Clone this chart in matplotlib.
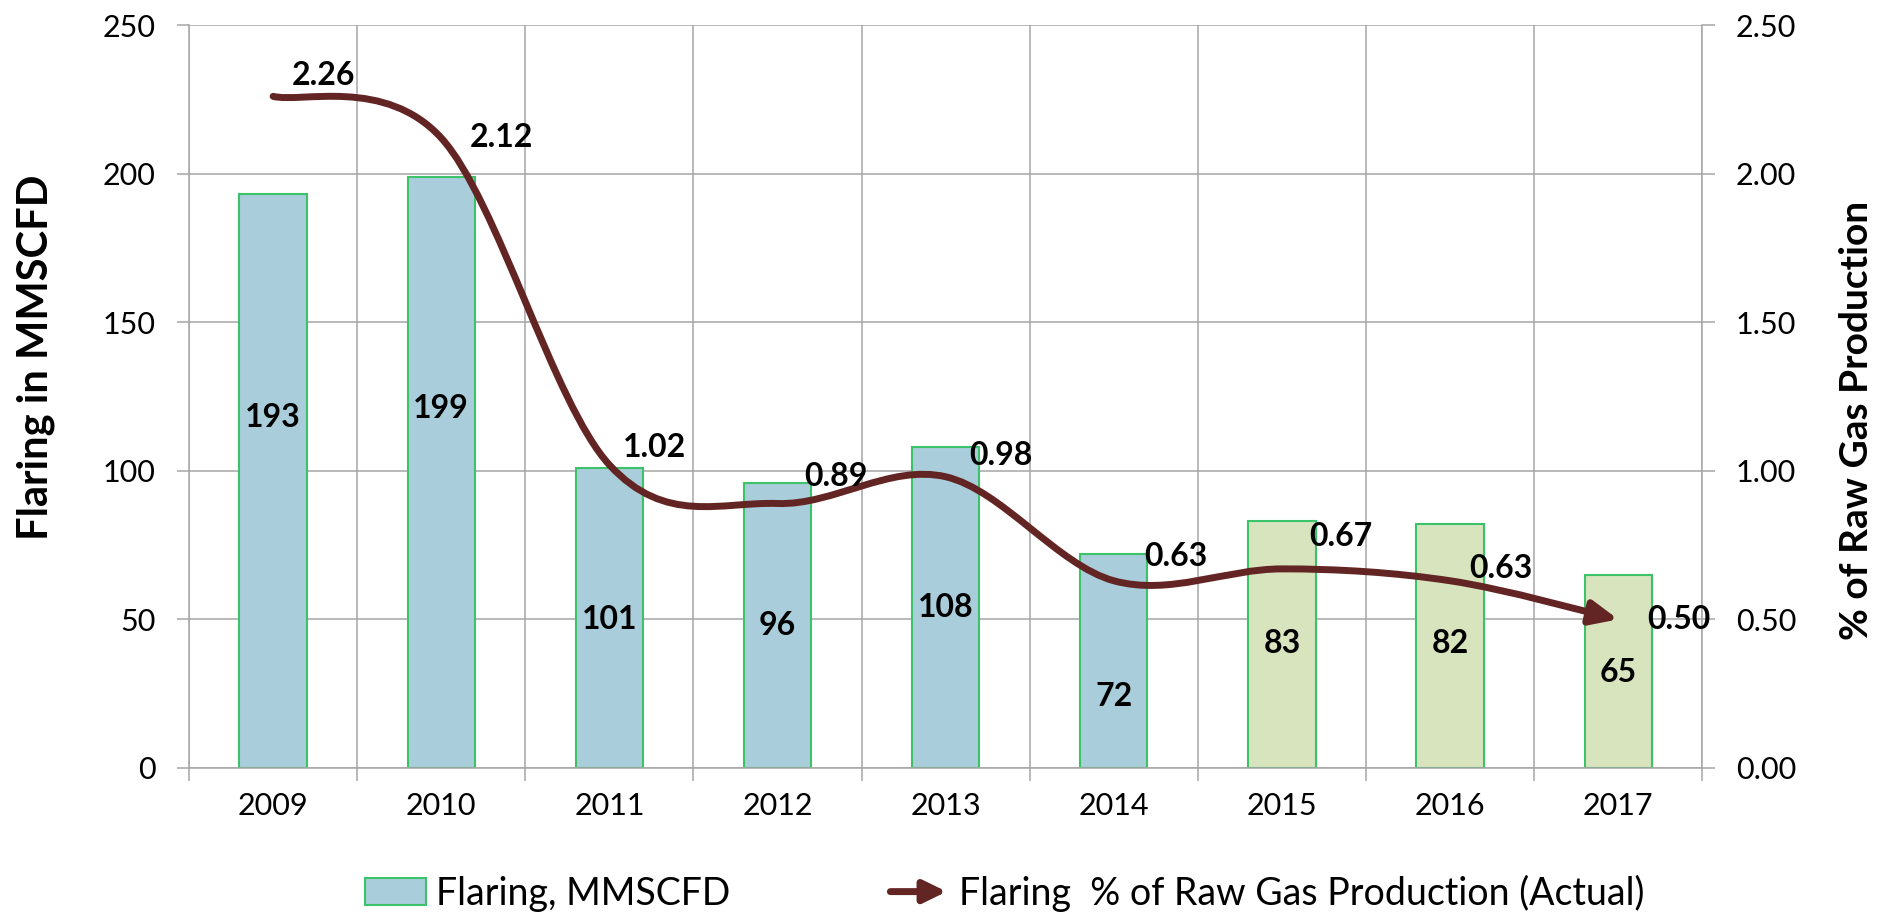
import numpy as np
import matplotlib
matplotlib.use("Agg")
import matplotlib.pyplot as plt
from matplotlib.path import Path
from matplotlib.patches import FancyArrowPatch, Patch
from matplotlib.legend_handler import HandlerBase
from matplotlib.ticker import FormatStrFormatter

plt.rcParams['font.family'] = ['Lato', 'DejaVu Sans']

years = ['2009', '2010', '2011', '2012', '2013', '2014', '2015', '2016', '2017']
flaring = [193, 199, 101, 96, 108, 72, 83, 82, 65]
pct_raw_gas = [2.26, 2.12, 1.02, 0.89, 0.98, 0.63, 0.67, 0.63, 0.50]

# where the labels sit (layout, not data)
bar_label_y = [118, 121, 50, 48, 54, 24, 42, 42, 32]
pct_label_dx = [0.30, 0.36, 0.27, 0.35, 0.33, 0.37, 0.35, 0.30, 0.36]
pct_label_y = [2.33, 2.12, 1.08, 0.98, 1.05, 0.71, 0.78, 0.67, 0.50]

blue = '#A9CDDB'
green = '#D7E4BD'
edge = '#3CC36A'
line_col = '#632523'
grid_col = '#A6A6A6'

fig = plt.figure(figsize=(18.81, 9.17), dpi=100)
ax = fig.add_axes([0.1005, 0.1625, 0.8045, 0.8102])
x = np.arange(len(years))
colors = [blue] * 6 + [green] * 3
ax.bar(x, flaring, width=0.4, color=colors, edgecolor=edge, linewidth=1.5, zorder=2)
for i, v in enumerate(flaring):
    ax.text(x[i], bar_label_y[i], str(v), ha='center', va='center', fontsize=23,
            fontweight='bold', zorder=5)

ax.set_xlim(-0.5, len(years) - 0.5)
ax.set_ylim(0, 250)
ax.set_yticks(np.arange(0, 251, 50))
ax.set_xticks(x)
ax.set_xticklabels(years)
ax.set_xticks(np.arange(-0.5, len(years), 1), minor=True)
ax.set_axisbelow(True)
ax.yaxis.grid(True, color=grid_col, lw=1.1)
ax.xaxis.grid(True, which='minor', color=grid_col, lw=1.1)
ax.tick_params(axis='x', which='major', length=0, labelsize=22, pad=17)
ax.tick_params(axis='x', which='minor', length=9, direction='out', color=grid_col, width=1.1)
ax.tick_params(axis='y', length=9, direction='out', color=grid_col, width=1.1,
               labelsize=22, pad=15)
for s in ['left', 'right', 'bottom']:
    ax.spines[s].set_color(grid_col)
    ax.spines[s].set_linewidth(1.1)
ax.spines['top'].set_visible(False)

ax2 = ax.twinx()
ax2.set_ylim(0, 2.5)
ax2.set_yticks(np.arange(0, 2.51, 0.5))
ax2.yaxis.set_major_formatter(FormatStrFormatter('%.2f'))
ax2.tick_params(axis='y', length=9, direction='out', color=grid_col, width=1.1,
                labelsize=22, pad=15)
for s in ['left', 'right', 'bottom', 'top']:
    ax2.spines[s].set_visible(False)

# smoothed line like Excel (Catmull-Rom as cubic Bezier)
pts = np.column_stack([x, pct_raw_gas]).astype(float)
n = len(pts)
verts = [pts[0]]
codes = [Path.MOVETO]
for i in range(n - 1):
    p0 = pts[max(i - 1, 0)]
    p1 = pts[i]
    p2 = pts[i + 1]
    p3 = pts[min(i + 2, n - 1)]
    verts += [p1 + (p2 - p0) / 6, p2 - (p3 - p1) / 6, p2]
    codes += [Path.CURVE4] * 3
arrow = FancyArrowPatch(path=Path(verts, codes), arrowstyle='-|>,head_length=0.45,head_width=0.2',
                        mutation_scale=36, color=line_col, lw=5, capstyle='round',
                        joinstyle='round', zorder=4)
ax2.add_patch(arrow)

for i, v in enumerate(pct_raw_gas):
    ax2.text(x[i] + pct_label_dx[i], pct_label_y[i], '%.2f' % v, ha='center', va='center',
             fontsize=23, fontweight='bold', zorder=6)

fig.text(0.019, 0.61, 'Flaring in MMSCFD', rotation=90, ha='center', va='center',
         fontsize=30, fontweight='bold')
fig.text(0.987, 0.542, '% of Raw Gas Production', rotation=90, ha='center', va='center',
         fontsize=28, fontweight='bold')


class ArrowHandler(HandlerBase):
    def create_artists(self, legend, orig_handle, xdescent, ydescent, width, height,
                       fontsize, trans):
        y = height / 2 - ydescent
        a = FancyArrowPatch((-xdescent, y), (width - xdescent, y),
                            arrowstyle='-|>,head_length=0.45,head_width=0.22',
                            mutation_scale=30, color=line_col, lw=5, capstyle='round',
                            transform=trans)
        return [a]


line_handle = Patch(color=line_col)
fig.legend([Patch(facecolor=blue, edgecolor=edge, linewidth=1.5), line_handle],
           ['Flaring, MMSCFD', 'Flaring  % of Raw Gas Production (Actual)'],
           handler_map={line_handle: ArrowHandler()},
           loc='center', bbox_to_anchor=(0.534, 0.026), ncol=2, frameon=False,
           fontsize=27, handlelength=1.65, handleheight=0.7, handletextpad=0.25,
           columnspacing=4.2)

fig.savefig('out.png', dpi=100)
